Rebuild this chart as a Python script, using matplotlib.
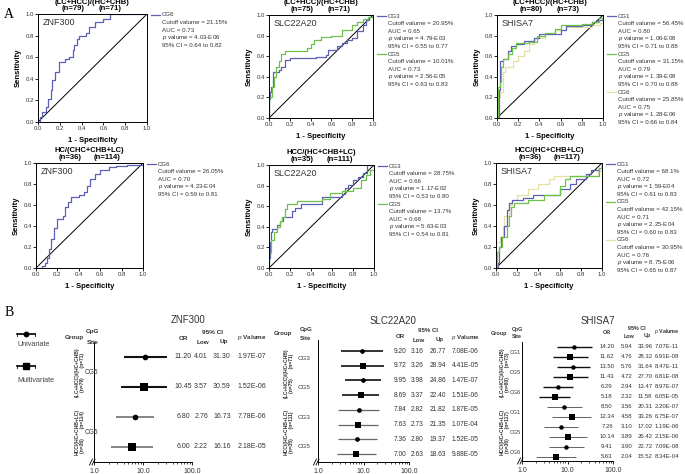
"""ROC curves and odds-ratio forest plots for ZNF300, SLC22A20 and SHISA7."""
import matplotlib
matplotlib.use("Agg")
import matplotlib.pyplot as plt
from matplotlib.lines import Line2D
from matplotlib.ticker import NullFormatter, FixedLocator
from matplotlib.transforms import blended_transform_factory

plt.rcParams["font.family"] = ["Liberation Sans", "DejaVu Sans"]
plt.rcParams["mathtext.fontset"] = "custom"
plt.rcParams["mathtext.rm"] = "Liberation Sans"
plt.rcParams["mathtext.it"] = "Liberation Sans:italic"
plt.rcParams["mathtext.bf"] = "Liberation Sans:bold"

W, H = 685, 474
BLUE, GREEN, YELLOW = "#5b60b4", "#6cc24a", "#e6dfa2"
TXT = "#333333"

# ---- ROC data ----
znf_lh_cg6_fpr = [0, 0.02, 0.04, 0.07, 0.09, 0.115, 0.13, 0.155, 0.19, 0.25, 0.28, 0.32, 0.33,
                  0.36, 0.38, 0.44, 0.47, 0.52, 0.60, 0.66, 1.0]
znf_lh_cg6_tpr = [0, 0.05, 0.09, 0.14, 0.21, 0.30, 0.39, 0.46, 0.56, 0.58, 0.60, 0.67, 0.71,
                  0.77, 0.80, 0.82, 0.88, 0.93, 0.95, 1.0, 1.0]

slc_lh_cg3_fpr = [0, 0, 0.01, 0.02, 0.04, 0.10, 0.12, 0.15, 0.20, 0.45, 0.55, 0.57, 0.65, 0.70,
                  0.75, 0.80, 0.85, 0.90, 0.93, 0.96, 1.0]
slc_lh_cg3_tpr = [0, 0.18, 0.25, 0.30, 0.45, 0.47, 0.50, 0.56, 0.58, 0.59, 0.61, 0.66, 0.70, 0.73,
                  0.76, 0.78, 0.84, 0.90, 0.95, 0.98, 1.0]
slc_lh_cg5_fpr = [0, 0, 0.03, 0.05, 0.07, 0.10, 0.12, 0.15, 0.35, 0.37, 0.40, 0.43, 0.50, 0.60,
                  0.70, 0.80, 0.85, 0.90, 0.95, 1.0]
slc_lh_cg5_tpr = [0, 0.20, 0.30, 0.40, 0.50, 0.55, 0.62, 0.65, 0.65, 0.68, 0.72, 0.76, 0.79, 0.80,
                  0.85, 0.90, 0.93, 0.96, 0.98, 1.0]

shi_lh_cg1_fpr = [0, 0.02, 0.03, 0.06, 0.10, 0.13, 0.18, 0.25, 0.35, 0.40, 0.60, 0.65, 0.80, 0.90,
                  0.95, 1.0]
shi_lh_cg1_tpr = [0, 0.27, 0.55, 0.57, 0.65, 0.70, 0.72, 0.75, 0.78, 0.82, 0.85, 0.89, 0.90, 0.93,
                  0.95, 1.0]
shi_lh_cg5_fpr = [0, 0.01, 0.03, 0.04, 0.06, 0.10, 0.14, 0.18, 0.30, 0.38, 0.45, 0.55, 0.60, 0.80,
                  0.90, 0.96, 1.0]
shi_lh_cg5_tpr = [0, 0.30, 0.35, 0.50, 0.57, 0.62, 0.68, 0.73, 0.74, 0.80, 0.83, 0.86, 0.90, 0.91,
                  0.93, 0.97, 1.0]
shi_lh_cg6_fpr = [0, 0, 0.03, 0.06, 0.08, 0.15, 0.20, 0.25, 0.30, 0.35, 0.45, 0.55, 0.65, 0.90,
                  0.97, 1.0]
shi_lh_cg6_tpr = [0, 0.20, 0.25, 0.45, 0.50, 0.55, 0.60, 0.65, 0.72, 0.78, 0.82, 0.85, 0.88, 0.90,
                  0.92, 1.0]

znf_h_cg6_fpr = [0, 0.06, 0.08, 0.10, 0.12, 0.14, 0.17, 0.20, 0.25, 0.27, 0.30, 0.33, 0.40, 0.45,
                 0.48, 0.50, 0.55, 0.60, 0.68, 0.75, 0.85, 1.0]
znf_h_cg6_tpr = [0, 0.02, 0.05, 0.10, 0.18, 0.28, 0.38, 0.47, 0.50, 0.58, 0.63, 0.68, 0.70, 0.72,
                 0.78, 0.85, 0.90, 0.93, 0.96, 0.97, 0.98, 1.0]

slc_h_cg3_fpr = [0, 0, 0.01, 0.02, 0.03, 0.08, 0.10, 0.13, 0.22, 0.25, 0.30, 0.50, 0.70, 0.72,
                 0.75, 0.80, 0.85, 0.90, 0.93, 1.0]
slc_h_cg3_tpr = [0, 0.10, 0.25, 0.35, 0.38, 0.42, 0.46, 0.50, 0.55, 0.58, 0.62, 0.69, 0.72, 0.78,
                 0.81, 0.85, 0.88, 0.92, 1.0, 1.0]
slc_h_cg5_fpr = [0, 0, 0.02, 0.05, 0.08, 0.10, 0.12, 0.15, 0.17, 0.27, 0.50, 0.58, 0.70, 0.80,
                 0.88, 0.92, 0.96, 1.0]
slc_h_cg5_tpr = [0, 0.15, 0.27, 0.35, 0.40, 0.46, 0.50, 0.57, 0.62, 0.65, 0.67, 0.73, 0.75, 0.78,
                 0.85, 0.90, 0.95, 1.0]

shi_h_cg1_fpr = [0, 0.02, 0.03, 0.05, 0.08, 0.10, 0.12, 0.15, 0.25, 0.35, 0.60, 0.70, 0.75, 0.85,
                 0.90, 0.97, 1.0]
shi_h_cg1_tpr = [0, 0.05, 0.20, 0.30, 0.40, 0.55, 0.62, 0.65, 0.67, 0.70, 0.75, 0.80, 0.85, 0.90,
                 0.93, 0.95, 1.0]
shi_h_cg5_fpr = [0, 0.01, 0.03, 0.06, 0.10, 0.12, 0.14, 0.17, 0.30, 0.45, 0.60, 0.65, 0.70, 0.97,
                 1.0]
shi_h_cg5_tpr = [0, 0.15, 0.20, 0.30, 0.40, 0.50, 0.58, 0.62, 0.65, 0.70, 0.78, 0.85, 0.88, 0.95,
                 1.0]
shi_h_cg6_fpr = [0, 0, 0.04, 0.07, 0.08, 0.12, 0.15, 0.20, 0.30, 0.40, 0.50, 0.55, 0.96, 1.0]
shi_h_cg6_tpr = [0, 0.25, 0.30, 0.40, 0.50, 0.60, 0.65, 0.70, 0.75, 0.80, 0.85, 0.88, 0.92, 1.0]

# cutoff, AUC, p, CI for each curve
znf_lh_cg6_stats = ["21.15%", "0.73", "4.03-E06", "0.64 to 0.82"]
slc_lh_cg3_stats = ["20.95%", "0.65", "4.79-E03", "0.55 to 0.77"]
slc_lh_cg5_stats = ["10.01%", "0.73", "2.56-E05", "0.63 to 0.83"]
shi_lh_cg1_stats = ["56.45%", "0.80", "1.06-E08", "0.71 to 0.88"]
shi_lh_cg5_stats = ["31.15%", "0.79", "1.39-E08", "0.70 to 0.88"]
shi_lh_cg6_stats = ["25.85%", "0.75", "1.28-E06", "0.66 to 0.84"]
znf_h_cg6_stats = ["26.05%", "0.70", "4.23-E04", "0.59 to 0.81"]
slc_h_cg3_stats = ["28.75%", "0.66", "1.17-E02", "0.53 to 0.80"]
slc_h_cg5_stats = ["13.7%", "0.68", "5.63-E03", "0.54 to 0.81"]
shi_h_cg1_stats = ["68.1%", "0.72", "1.59-E04", "0.61 to 0.83"]
shi_h_cg5_stats = ["42.15%", "0.71", "2.25-E04", "0.60 to 0.83"]
shi_h_cg6_stats = ["30.95%", "0.76", "8.75-E06", "0.65 to 0.87"]

# ---- forest data ----
znf_or = [11.20, 10.45, 6.80, 6.00]
znf_low = [4.01, 3.57, 2.76, 2.22]
znf_up = [31.30, 30.59, 16.73, 16.16]
znf_p = ["1.97E-07", "1.52E-06", "7.78E-06", "2.18E-05"]
znf_sites = ["CG6"]

slc_or = [9.20, 9.72, 9.95, 8.69, 7.84, 7.63, 7.36, 7.00]
slc_low = [3.16, 3.26, 3.98, 3.37, 2.82, 2.73, 2.80, 2.63]
slc_up = [26.77, 28.94, 24.86, 22.40, 21.82, 21.35, 19.37, 18.63]
slc_p = ["7.08E-06", "4.41E-05", "1.47E-07", "1.51E-06", "1.87E-05", "1.07E-04",
         "1.52E-05", "9.88E-05"]
slc_sites = ["CG3", "CG5"]

shi_or = [14.20, 11.62, 13.50, 11.43, 6.29, 5.18, 8.50, 12.34, 7.26, 10.14, 9.41, 5.63]
shi_low = [5.94, 4.76, 5.76, 4.72, 2.94, 2.32, 3.56, 4.58, 3.10, 3.89, 3.90, 2.04]
shi_up = [33.96, 28.32, 31.64, 27.70, 13.47, 11.58, 20.31, 33.26, 17.02, 26.42, 22.72, 15.52]
shi_p = ["7.07E-11", "6.91E-08", "8.47E-11", "6.81E-08", "8.97E-07", "6.05E-05",
         "2.20E-07", "6.75E-07", "1.19E-06", "2.15E-06", "7.09E-08", "8.34E-04"]
shi_sites = ["CG1", "CG5", "CG6"]

fig = plt.figure(figsize=(W / 100, H / 100), dpi=100)


def rect(l, t, r, b):
    return [l / W, 1 - b / H, (r - l) / W, (b - t) / H]


def ftext(x, y, s, **kw):
    kw.setdefault("ha", "center")
    kw.setdefault("va", "center")
    fig.text(x / W, 1 - y / H, s, **kw)


def roc_panel(box, gene, group, n_a, n_b, curves):
    l, t, r, b = box
    ax = fig.add_axes(rect(*box))
    ax.plot([0, 1], [0, 1], color="black", lw=0.7, zorder=1)
    for name, fpr, tpr, color, stats in curves:
        ax.plot(fpr, tpr, drawstyle="steps-post", color=color, lw=0.9,
                zorder=1.5 if color == YELLOW else 2)
    ax.set_xlim(0, 1)
    ax.set_ylim(0, 1)
    ticks = [0, 0.2, 0.4, 0.6, 0.8, 1.0]
    ax.set_xticks(ticks)
    ax.set_yticks(ticks)
    ax.set_xticklabels([f"{v:.1f}" for v in ticks])
    ax.set_yticklabels([f"{v:.1f}" for v in ticks])
    ax.tick_params(labelsize=4.3, length=2, width=0.6, pad=1, labelcolor=TXT)
    for s in ax.spines.values():
        s.set_linewidth(0.7)
    ax.set_xlabel("1 - Specificity", fontsize=5.5, fontweight="bold", labelpad=4)
    ax.set_ylabel("Sensitivity", fontsize=5.5, fontweight="bold", labelpad=3)
    ax.text(0.04, 0.92, gene, transform=ax.transAxes, fontsize=6.5, ha="left", va="center",
            color=TXT)
    cx = (l + r) / 2
    ftext(cx, t - 12, group, fontsize=5.5, fontweight="bold")
    ftext(cx - 19, t - 5.5, f"(n={n_a})", fontsize=5.5, fontweight="bold")
    ftext(cx + 18, t - 5.5, f"(n={n_b})", fontsize=5.5, fontweight="bold")
    y = t + 1
    for name, fpr, tpr, color, stats in curves:
        fig.add_artist(Line2D([(r + 4) / W, (r + 13) / W], [1 - y / H] * 2, color=color, lw=0.9))
        ftext(r + 15, y, name, ha="left", fontsize=4.4, color=TXT)
        lines = [f"Cutoff valume = {stats[0]}", f"AUC = {stats[1]}",
                 f"$p$ valume = {stats[2]}", f"95% CI = {stats[3]}"]
        for line in lines:
            y += 7.6
            ftext(r + 15, y, line, ha="left", fontsize=4.4, color=TXT)
        y += 7.6


roc_panel((38, 14, 147, 122), "ZNF300", "(LC+HCC)/(HC+CHB)", 79, 71,
          [("CG6", znf_lh_cg6_fpr, znf_lh_cg6_tpr, BLUE, znf_lh_cg6_stats)])
roc_panel((269, 15, 373, 118), "SLC22A20", "(LC+HCC)/(HC+CHB)", 75, 71,
          [("CG3", slc_lh_cg3_fpr, slc_lh_cg3_tpr, BLUE, slc_lh_cg3_stats),
           ("CG5", slc_lh_cg5_fpr, slc_lh_cg5_tpr, GREEN, slc_lh_cg5_stats)])
roc_panel((497, 15, 603, 118), "SHISA7", "(LC+HCC)/(HC+CHB)", 80, 73,
          [("CG1", shi_lh_cg1_fpr, shi_lh_cg1_tpr, BLUE, shi_lh_cg1_stats),
           ("CG5", shi_lh_cg5_fpr, shi_lh_cg5_tpr, GREEN, shi_lh_cg5_stats),
           ("CG6", shi_lh_cg6_fpr, shi_lh_cg6_tpr, YELLOW, shi_lh_cg6_stats)])
roc_panel((36, 163, 143, 268), "ZNF300", "HC/(CHC+CHB+LC)", 36, 114,
          [("CG6", znf_h_cg6_fpr, znf_h_cg6_tpr, BLUE, znf_h_cg6_stats)])
roc_panel((269, 165, 374, 268), "SLC22A20", "HCC/(HC+CHB+LC)", 35, 111,
          [("CG3", slc_h_cg3_fpr, slc_h_cg3_tpr, BLUE, slc_h_cg3_stats),
           ("CG5", slc_h_cg5_fpr, slc_h_cg5_tpr, GREEN, slc_h_cg5_stats)])
roc_panel((496, 163, 602, 268), "SHISA7", "HCC/(HC+CHB+LC)", 36, 117,
          [("CG1", shi_h_cg1_fpr, shi_h_cg1_tpr, BLUE, shi_h_cg1_stats),
           ("CG5", shi_h_cg5_fpr, shi_h_cg5_tpr, GREEN, shi_h_cg5_stats),
           ("CG6", shi_h_cg6_fpr, shi_h_cg6_tpr, YELLOW, shi_h_cg6_stats)])


def forest_panel(box, ylim, title, title_x, col_x, head_y, grp_x, site_x, groups, sites,
                 ors, lows, ups, pvals, lw, fs, ms_scale):
    l, t, r, b = box
    ax = fig.add_axes(rect(*box))
    ax.set_xscale("log")
    ax.set_xlim(1, 100)
    ax.set_ylim(*ylim)
    n = len(ors)
    half = n // 2
    for i in range(n):
        second = i >= half
        ecol = "#666666" if second else "#111111"
        fmt = "s" if i % 2 else "o"
        ms = (4.4 if i % 2 else 3.4) * ms_scale
        ax.errorbar(ors[i], i, xerr=[[ors[i] - lows[i]], [ups[i] - ors[i]]], fmt=fmt,
                    color="black", ecolor=ecol, elinewidth=lw * (0.75 if second else 1),
                    capsize=1.3, capthick=0.6, ms=ms, mew=0)
    for side in ("top", "right"):
        ax.spines[side].set_visible(False)
    ax.spines["left"].set_linewidth(0.7)
    ax.spines["bottom"].set_linewidth(0.7)
    ax.set_yticks([])
    ax.xaxis.set_major_locator(FixedLocator([1, 10, 100]))
    ax.set_xticklabels(["1.0", "10.0", "100.0"])
    ax.xaxis.set_minor_formatter(NullFormatter())
    ax.tick_params(axis="x", which="major", labelsize=5, length=2.5, width=0.6, pad=1.5,
                   labelcolor=TXT)
    ax.tick_params(axis="x", which="minor", length=1.5, width=0.5)
    # axis break marks
    for dx in (-3, -0.5):
        fig.add_artist(Line2D([(l + dx - 1.5) / W, (l + dx + 1.5) / W],
                              [1 - (b + 3) / H, 1 - (b - 3) / H], color="black", lw=0.6))
    tr = blended_transform_factory(fig.transFigure, ax.transData)
    # CpG site and group labels
    per_group = n // len(groups)
    for g, (gname, na, nb) in enumerate(groups):
        mid = g * per_group + (per_group - 1) / 2
        ax.text(grp_x / W, mid, f"{gname}\n(n={na})       (n={nb})", transform=tr,
                rotation=90, ha="center", va="center", fontsize=3.6, fontweight="bold",
                linespacing=1.0, color=TXT, clip_on=False)
        for k, site in enumerate(sites):
            ax.text(site_x / W, g * per_group + 2 * k + 0.5, site, transform=tr, ha="center",
                    va="center", fontsize=fs - 0.3, color=TXT, clip_on=False)
    # value columns
    for i in range(n):
        for x, s in zip(col_x, (f"{ors[i]:.2f}", f"{lows[i]:.2f}", f"{ups[i]:.2f}", pvals[i])):
            ax.text(x / W, i, s, transform=tr, ha="center", va="center", fontsize=fs,
                    color=TXT, clip_on=False)
    # headers
    ox, lx, ux, px = col_x
    title_y, hy_or, hy_ci, hy_lu, hy_p, hy_grp, hy_cpg, hy_site = head_y
    hfs = fs - 0.4
    ftext(title_x, title_y, title, fontsize=7, color=TXT)
    ftext(ox, hy_or, "OR", fontsize=hfs, fontweight="bold", color=TXT)
    ftext((lx + ux) / 2 + 1, hy_ci, "95% CI", fontsize=hfs, fontweight="bold", color=TXT)
    ftext(lx + 2, hy_lu, "Low", fontsize=hfs, fontweight="bold", color=TXT)
    ftext(ux + 2, hy_lu, "Up", fontsize=hfs, fontweight="bold", color=TXT)
    ftext(px, hy_p, r"$\mathit{p}$ Valume", fontsize=hfs, fontweight="bold", color=TXT)
    ftext(grp_x - 6, hy_grp, "Group", fontsize=hfs, fontweight="bold", color=TXT)
    ftext(site_x + 2, hy_cpg, "CpG", fontsize=hfs, fontweight="bold", color=TXT)
    ftext(site_x + 2, hy_site, "Site", fontsize=hfs, fontweight="bold", color=TXT)


forest_panel((94, 342, 192, 462), (3.5, -0.5), "ZNF300", 188, (183, 201, 222, 252),
             (320, 338, 332, 342, 337, 337, 332, 342), 80, 91,
             [("(LC+HCC)/(HC+CHB)", 79, 71), ("HCC/(HC+CHB+LC)", 36, 114)], znf_sites,
             znf_or, znf_low, znf_up, znf_p, 1.5, 5.0, 1.2)
forest_panel((318, 340, 409, 462), (7.54, -0.75), "SLC22A20", 393, (400, 417, 438, 465),
             (321, 337, 331, 340, 337, 333, 330, 339), 289, 304,
             [("(LC+HCC)/(HC+CHB)", 75, 71), ("HCC/(HC+CHB+LC)", 35, 111)], slc_sites,
             slc_or, slc_low, slc_up, slc_p, 1.2, 4.8, 1.0)
forest_panel((522, 342, 613, 461), (11.4, -0.5), "SHISA7", 598, (607, 627, 645, 667),
             (321, 333, 328, 336, 332, 333, 329, 337), 505, 515,
             [("(LC+HCC)/(HC+CHB)", 80, 73), ("HCC/(HC+CHB+LC)", 36, 117)], shi_sites,
             shi_or, shi_low, shi_up, shi_p, 1.0, 4.3, 0.95)

# legend for panel B
for yy, mk, ms, label, ly in ((334, "o", 3.2, "Univariate", 345),
                              (366, "s", 4.2, "Multivariate", 380)):
    fig.add_artist(Line2D([17 / W, 35 / W], [1 - yy / H] * 2, color="black", lw=1.2))
    fig.add_artist(Line2D([26 / W], [1 - yy / H], marker=mk, ms=ms, color="black", lw=0))
    for xx in (17, 35):
        fig.add_artist(Line2D([xx / W] * 2, [1 - (yy - 1.5) / H, 1 - (yy + 1.5) / H],
                              color="black", lw=0.6))
    ftext(17, ly, label, ha="left", fontsize=5.2, color="#444444")

ftext(9, 14, "A", fontsize=10, family="Liberation Serif")
ftext(9, 313, "B", fontsize=10, family="Liberation Serif")

fig.savefig("out.png", dpi=100)
